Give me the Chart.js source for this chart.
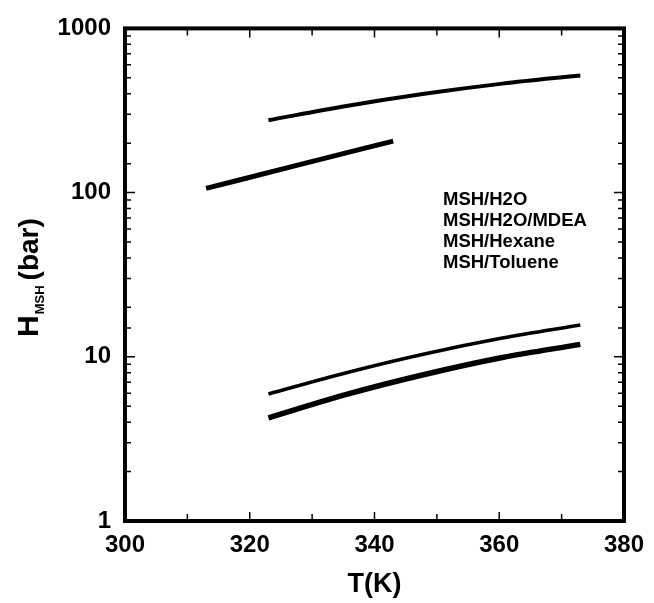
<!DOCTYPE html>
<html lang="en">
<head>
  <meta charset="UTF-8" />
  <title>H MSH vs T</title>
  <script src="https://cdn.jsdelivr.net/npm/chart.js"></script>
  <style>
    html, body { margin: 0; padding: 0; background: #fff; }
    .wrap { width: 654px; height: 603px; }
  </style>
</head>
<body>
  <div class="wrap"><canvas id="grafico" width="654" height="603"></canvas></div>

  <script>
    // series labels (legend text, top to bottom)
    const etiquetas = ['MSH/H2O', 'MSH/H2O/MDEA', 'MSH/Hexane', 'MSH/Toluene'];

    // temperatures (K) and Henry constants (bar)
    const tH2O = [323, 335.5, 348, 360.5, 373];
    const hH2O = [276, 337, 400, 461, 517];

    const tMDEA = [313, 328, 343];
    const hMDEA = [106, 148, 206];

    const tHexano = [323, 335.5, 348, 360.5, 373];
    const hHexano = [5.94, 8.0, 10.4, 13.0, 15.6];

    const tTolueno = [323, 335.5, 348, 360.5, 373];
    const hTolueno = [4.25, 5.9, 7.8, 9.9, 11.9];

    const xLabelsCada = 20;   // x tick labels every 20 K
    const grosores = [4, 5, 3.5, 5.5];

    const FUENTE = '"Liberation Sans", Arial, Helvetica, sans-serif';

    function puntos(ts, hs) {
      return ts.map((t, i) => ({ x: t, y: hs[i] }));
    }

    const series = [
      puntos(tH2O, hH2O),
      puntos(tMDEA, hMDEA),
      puntos(tHexano, hHexano),
      puntos(tTolueno, hTolueno)
    ];

    // frame, inner ticks, y title and text legend
    const extras = {
      id: 'extras',
      afterDraw(chart) {
        const ctx = chart.ctx;
        const a = chart.chartArea;
        const xs = chart.scales.x;
        const ys = chart.scales.y;
        ctx.save();
        ctx.strokeStyle = '#000';

        // inner ticks on x (bottom and top)
        ctx.lineWidth = 1.5;
        xs.ticks.forEach(t => {
          const px = xs.getPixelForValue(t.value);
          const len = (t.value % xLabelsCada === 0) ? 9 : 7;
          ctx.beginPath();
          ctx.moveTo(px, a.bottom); ctx.lineTo(px, a.bottom - len);
          ctx.moveTo(px, a.top); ctx.lineTo(px, a.top + len);
          ctx.stroke();
        });
        // inner ticks on y (left and right)
        ys.ticks.forEach(t => {
          const py = ys.getPixelForValue(t.value);
          const mayor = Math.abs(Math.log10(t.value) - Math.round(Math.log10(t.value))) < 1e-9;
          const len = mayor ? 10 : 6;
          ctx.beginPath();
          ctx.moveTo(a.left, py); ctx.lineTo(a.left + len, py);
          ctx.moveTo(a.right, py); ctx.lineTo(a.right - len, py);
          ctx.stroke();
        });

        // thick frame
        ctx.lineWidth = 4;
        ctx.strokeRect(a.left, a.top, a.right - a.left, a.bottom - a.top);

        // y axis title with subscript
        ctx.fillStyle = '#000';
        ctx.translate(38, 337);
        ctx.rotate(-Math.PI / 2);
        ctx.textAlign = 'left';
        ctx.textBaseline = 'alphabetic';
        ctx.font = 'bold 30px ' + FUENTE;
        ctx.fillText('H', 0, 0);
        const wH = ctx.measureText('H').width;
        ctx.font = 'bold 13px ' + FUENTE;
        ctx.fillText('MSH', wH + 1, 6);
        const wSub = ctx.measureText('MSH').width;
        ctx.font = 'bold 28px ' + FUENTE;
        ctx.fillText('(bar)', wH + wSub + 6, 0);
        ctx.restore();

        // legend: text only
        ctx.save();
        ctx.fillStyle = '#000';
        ctx.font = 'bold 18.5px ' + FUENTE;
        ctx.textAlign = 'left';
        ctx.textBaseline = 'alphabetic';
        chart.data.datasets.forEach((d, i) => {
          ctx.fillText(d.label, 443, 205 + i * 21);
        });
        ctx.restore();
      }
    };

    new Chart(document.getElementById('grafico'), {
      type: 'line',
      data: {
        datasets: series.map((s, i) => ({
          label: etiquetas[i],
          data: s,
          borderColor: '#000',
          backgroundColor: '#000',
          borderWidth: grosores[i],
          pointRadius: 0,
          pointHitRadius: 0,
          cubicInterpolationMode: 'monotone',
          fill: false
        }))
      },
      options: {
        responsive: false,
        animation: false,
        layout: { padding: { left: 0, right: 24, top: 26, bottom: 0 } },
        plugins: {
          legend: { display: false },
          tooltip: { enabled: false }
        },
        scales: {
          x: {
            type: 'linear',
            min: 300,
            max: 380,
            afterFit: s => { s.height = 82; },
            ticks: {
              stepSize: 10,
              autoSkip: false,
              maxRotation: 0,
              padding: 10,
              color: '#000',
              font: { family: FUENTE, size: 24, weight: 'bold' },
              callback: v => (v % xLabelsCada === 0 ? v : '')
            },
            grid: { display: false, drawTicks: false },
            border: { display: false },
            title: {
              display: true,
              text: 'T(K)',
              color: '#000',
              font: { family: FUENTE, size: 27, weight: 'bold' },
              padding: { top: 0, bottom: 2 }
            }
          },
          y: {
            type: 'logarithmic',
            min: 1,
            max: 1000,
            afterFit: s => { s.width = 125; },
            ticks: {
              autoSkip: false,
              padding: 14,
              color: '#000',
              font: { family: FUENTE, size: 24, weight: 'bold' },
              callback: v => {
                const l = Math.log10(v);
                return Math.abs(l - Math.round(l)) < 1e-9 ? String(v) : '';
              }
            },
            grid: { display: false, drawTicks: false },
            border: { display: false }
          }
        }
      },
      plugins: [extras]
    });
  </script>
</body>
</html>
